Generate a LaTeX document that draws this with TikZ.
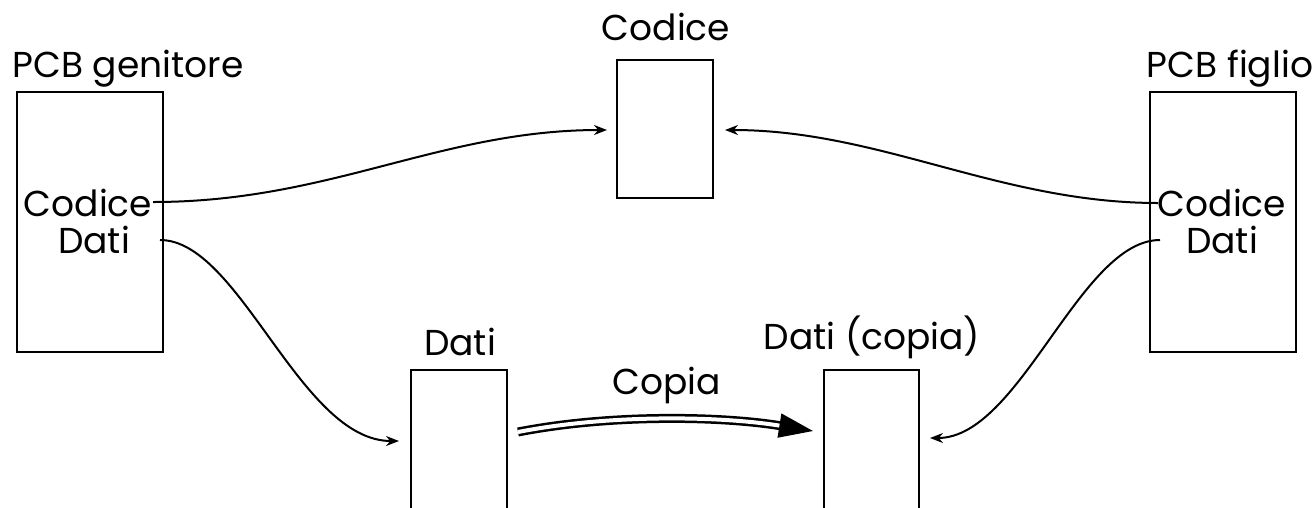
\documentclass[tikz,border=0pt]{standalone}
\usepackage{fontspec}
\setmainfont{Poppins}
\usetikzlibrary{arrows.meta}
\begin{document}
\begin{tikzpicture}[x=1pt,y=-1pt,
  box/.style={draw,line width=2.4pt},
  lbl/.style={inner sep=0pt,anchor=base,font=\fontsize{36}{40}\selectfont},
  conn/.style={line width=2pt,-{Stealth[length=13pt,width=10pt]}},
  copyarrow/.style={line width=2.5pt,double,double distance=4pt,-{Triangle[length=34pt,width=24pt]}}]
\useasboundingbox (0,0) rectangle (1313,507);
\clip (0,0) rectangle (1313,507);
% boxes
\draw[box] (17,92) rectangle (163,352);
\draw[box] (1150,92) rectangle (1296,352);
\draw[box] (617,60) rectangle (713,198);
\draw[box] (411,520) |- (507,370) -- (507,520);
\draw[box] (824,520) |- (919,370) -- (919,520);
% labels
\node[lbl] (lgen) at (128,77) {PCB genitore};
\node[lbl] (lfig) at (1230,77) {PCB figlio};
\node[lbl] (lcod) at (666,40) {Codice};
\node[lbl] (cgen) at (88,216) {Codice};
\node[lbl] (dgen) at (94,253) {Dati};
\node[lbl] (cfig) at (1222,216) {Codice};
\node[lbl] (dfig) at (1222,253) {Dati};
\node[lbl] (ldati) at (460,355) {Dati};
\node[lbl] (lcopia) at (872,349) {Dati (copia)};
\node[lbl] (lcp) at (667,394) {Copia};
% connector ends
\coordinate (a1) at (153,202);
\coordinate (a2) at (607,130);
\coordinate (b1) at (1158,203);
\coordinate (b2) at (725,130);
\coordinate (c1) at (160,240);
\coordinate (c2) at (399,441);
\coordinate (d1) at (1160,240);
\coordinate (d2) at (930,438);
\coordinate (e1) at (518,432);
\coordinate (e2) at (813,431);
\draw[conn] (a1) .. controls (330,202) and (440,130) .. (a2);
\draw[conn] (b1) .. controls (1000,203) and (880,130) .. (b2);
\draw[conn] (c1) .. controls (240,240) and (300,441) .. (c2);
\draw[conn] (d1) .. controls (1080,240) and (1020,438) .. (d2);
\draw[copyarrow] (e1) .. controls (610,414) and (720,416) .. (e2);
\end{tikzpicture}
\end{document}
